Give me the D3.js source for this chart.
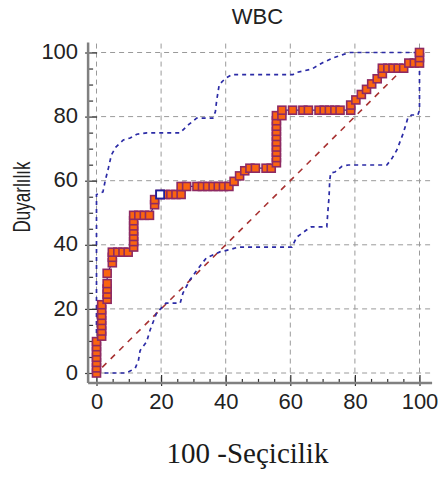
<!DOCTYPE html>
<html>
<head>
<meta charset="utf-8">
<script src="https://cdn.jsdelivr.net/npm/d3@7"></script>
<style>
  html, body { margin: 0; padding: 0; background: #fff; }
  svg { display: block; }
</style>
</head>
<body>
<svg id="chart" width="439" height="482"></svg>
<script>
// ROC curve for WBC: operating points (100 - specificity, sensitivity)
const rocFpr = [0, 0, 0, 0, 0, 0, 0,
  1.6, 1.6, 1.6, 1.6, 1.6, 1.6, 1.6,
  3.3, 3.3, 3.3, 3.3, 3.3,
  4.9, 4.9, 4.9, 6.6, 8.2, 9.8,
  11.5, 11.5, 11.5, 11.5, 11.5, 11.5, 11.5,
  13.1, 14.8, 16.4, 18, 18, 19.7,
  21.3, 23, 24.6, 26.2, 26.2, 27.9, 31.1, 32.8, 34.4, 36.1, 37.7, 39.3, 41,
  42.6, 44.3, 45.9, 47.5, 49.2, 52.5, 54.1,
  55.7, 55.7, 55.7, 55.7, 55.7, 55.7, 55.7, 55.7, 55.7, 55.7, 57.4, 57.4,
  60.7, 63.9, 65.6, 68.9, 70.5, 72.1, 73.8, 75.4, 78.7,
  78.7, 80.3, 82, 83.6, 85.2, 86.9, 88.5, 88.5,
  90.2, 91.8, 93.4, 95.1, 96.7, 98.4, 100, 100, 100];
const rocTpr = [0, 1.6, 3.3, 4.9, 6.6, 8.2, 9.8,
  11.5, 13.1, 14.8, 16.4, 18, 19.7, 21.3,
  23, 24.6, 26.2, 27.9, 31.1,
  34.4, 36.1, 37.7, 37.7, 37.7, 37.7,
  39.3, 41, 42.6, 44.3, 45.9, 47.5, 49.2,
  49.2, 49.2, 49.2, 52.5, 54.1, 55.7,
  55.7, 55.7, 55.7, 55.7, 58.2, 58.2, 58.2, 58.2, 58.2, 58.2, 58.2, 58.2, 58.2,
  59.8, 61.5, 63.1, 63.9, 63.9, 63.9, 63.9,
  65.6, 67.2, 68.9, 70.5, 72.1, 73.8, 75.4, 77, 78.7, 80.3, 80.3, 82,
  82, 82, 82, 82, 82, 82, 82, 82, 82,
  83.6, 85.2, 86.9, 88.5, 90.2, 91.8, 93.4, 95.1,
  95.1, 95.1, 95.1, 95.1, 96.7, 96.7, 96.7, 98.4, 100];

// Highlighted criterion point
const criterion = [19.7, 55.7];

// 95% confidence bounds
const upperFpr = [0, 0, 2, 2.7, 3.7, 4.6, 6, 8.3, 10.4, 12.5, 15.6, 25.8, 28.5, 31, 36, 36.8, 37.2, 38, 40, 42, 60.8, 62, 66.6, 70, 73.2, 76.5, 78.5, 100];
const upperTpr = [0, 55.7, 56.5, 60, 64, 68, 70.5, 72.7, 73.3, 74.5, 74.9, 74.9, 77.5, 79.5, 79.5, 81.5, 85, 90, 92, 93.1, 93.1, 93.8, 94.8, 96.8, 98.3, 99.4, 100, 100];
const lowerFpr = [0, 9.3, 12, 13, 13.5, 15.5, 16.6, 18.6, 21.5, 25.9, 26.8, 28.9, 31, 34, 38.2, 41.3, 44, 60.5, 62, 65, 66.5, 71.3, 71.6, 72, 72.2, 72.5, 73.8, 76, 78, 89.9, 91.5, 93, 95, 96.4, 97.5, 99.5, 100, 100];
const lowerTpr = [0, 0, 1.5, 4, 7, 9.7, 13.4, 18.7, 21.8, 21.8, 25, 29, 32, 35.9, 37.8, 38.5, 39.3, 39.3, 42.4, 44.6, 45.6, 45.6, 50, 55, 60, 62.4, 62.7, 64.5, 64.9, 64.9, 67, 69.6, 74.9, 79.6, 80.5, 80.5, 82, 100];

// Reference diagonal
const diagonal = [0, 100];

// Tick labels
const majorTicks = [0, 20, 40, 60, 80, 100];
const minorTicks = [5, 10, 15, 25, 30, 35, 45, 50, 55, 65, 70, 75, 85, 90, 95];

const titleText = "WBC";
const yTitle = "Duyarlılık";
const xTitle = "100 -Seçicilik";

const svg = d3.select("#chart");

const x = d3.scaleLinear().domain([0, 100]).range([96.5, 419.5]);
const y = d3.scaleLinear().domain([0, 100]).range([373, 52.5]);

// frame extents (slightly beyond 0..100)
const xLo = -2.6, xHi = 103.9, yLo = -3.1, yHi = 103.1;
const spineX = x(xLo), spineY = y(yLo);

// grid
const grid = svg.append("g").attr("stroke", "#9a9a9a").attr("stroke-width", 1)
  .attr("stroke-dasharray", "5,4").attr("fill", "none");
grid.selectAll("line.h").data(majorTicks).join("line").attr("class", "h")
  .attr("x1", spineX + 4).attr("x2", x(xHi)).attr("y1", d => y(d)).attr("y2", d => y(d));
grid.selectAll("line.v").data(majorTicks).join("line").attr("class", "v")
  .attr("x1", d => x(d)).attr("x2", d => x(d)).attr("y1", y(yHi) + 1).attr("y2", spineY);

// axis ticks + labels
const xMinor = svg.append("g").attr("transform", `translate(0,${spineY})`)
  .call(d3.axisBottom(x).tickValues(minorTicks).tickSize(-4).tickFormat(""));
const xMajor = svg.append("g").attr("transform", `translate(0,${spineY})`)
  .call(d3.axisBottom(x).tickValues(majorTicks).tickSize(-8).tickPadding(10).tickFormat(d3.format("d")));
const yMinor = svg.append("g").attr("transform", `translate(${spineX},0)`)
  .call(d3.axisLeft(y).tickValues(minorTicks).tickSize(-5).tickFormat(""));
const yMajor = svg.append("g").attr("transform", `translate(${spineX},0)`)
  .call(d3.axisLeft(y).tickValues(majorTicks).tickSize(-9).tickPadding(10).tickFormat(d3.format("d")));

[xMinor, xMajor, yMinor, yMajor].forEach(g => {
  g.select(".domain").remove();
  g.selectAll(".tick line").attr("stroke", "#333").attr("stroke-width", 1.2);
  g.selectAll(".tick text").attr("font-family", "'Liberation Sans', Arial, sans-serif")
    .attr("font-size", 22).attr("fill", "#222");
});
yMajor.selectAll(".tick text").attr("dy", "0.28em");
// major ticks cross the spine slightly
xMajor.selectAll(".tick").append("line").attr("y1", 0).attr("y2", 3).attr("stroke", "#333").attr("stroke-width", 1.2);
yMajor.selectAll(".tick").append("line").attr("x1", 0).attr("x2", -3).attr("stroke", "#333").attr("stroke-width", 1.2);

// spines
svg.append("line").attr("x1", spineX).attr("x2", spineX).attr("y1", y(yHi)).attr("y2", spineY)
  .attr("stroke", "#808080").attr("stroke-width", 2.5);
svg.append("line").attr("x1", spineX).attr("x2", x(xHi)).attr("y1", spineY).attr("y2", spineY)
  .attr("stroke", "#808080").attr("stroke-width", 2.5);

const line = d3.line().x(d => x(d[0])).y(d => y(d[1]));

// diagonal
svg.append("path").datum(diagonal.map(v => [v, v])).attr("d", line)
  .attr("fill", "none").attr("stroke", "#a83232").attr("stroke-width", 1.6)
  .attr("stroke-dasharray", "6,6").attr("stroke-dashoffset", -8);

// confidence bounds
const bandStyle = p => p.attr("fill", "none").attr("stroke", "#2b2ba6").attr("stroke-width", 1.7)
  .attr("stroke-dasharray", "4,4");
svg.append("path").datum(upperFpr.map((v, i) => [v, upperTpr[i]])).attr("d", line).call(bandStyle);
svg.append("path").datum(lowerFpr.map((v, i) => [v, lowerTpr[i]])).attr("d", line).call(bandStyle);

// ROC curve
const roc = rocFpr.map((v, i) => [v, rocTpr[i]]);
svg.append("path").datum(roc).attr("d", line)
  .attr("fill", "none").attr("stroke", "#22228a").attr("stroke-width", 1.2);

const s = 8;
svg.append("g").selectAll("rect").data(roc).join("rect")
  .attr("x", d => x(d[0]) - s / 2).attr("y", d => y(d[1]) - s / 2)
  .attr("width", s).attr("height", s)
  .attr("fill", "#fa6410").attr("stroke", "#8e2a63").attr("stroke-width", 1.6);

svg.append("rect").datum(criterion)
  .attr("x", d => x(d[0]) - s / 2).attr("y", d => y(d[1]) - s / 2)
  .attr("width", s).attr("height", s)
  .attr("fill", "#fff").attr("stroke", "#1f1f9a").attr("stroke-width", 1.8);

// titles
svg.append("text").attr("x", 257.5).attr("y", 24).attr("text-anchor", "middle")
  .attr("font-family", "'Liberation Sans', Arial, sans-serif").attr("font-size", 22)
  .attr("fill", "#222").text(titleText);

svg.append("text").attr("transform", "translate(30,197) rotate(-90) scale(0.74,1)")
  .attr("text-anchor", "middle")
  .attr("font-family", "'Liberation Sans', Arial, sans-serif").attr("font-size", 23)
  .attr("fill", "#222").text(yTitle);

svg.append("text").attr("x", 247.5).attr("y", 463).attr("text-anchor", "middle")
  .attr("font-family", "'Liberation Serif', 'Times New Roman', serif").attr("font-size", 29)
  .attr("fill", "#1a1a1a").text(xTitle);
</script>
</body>
</html>
